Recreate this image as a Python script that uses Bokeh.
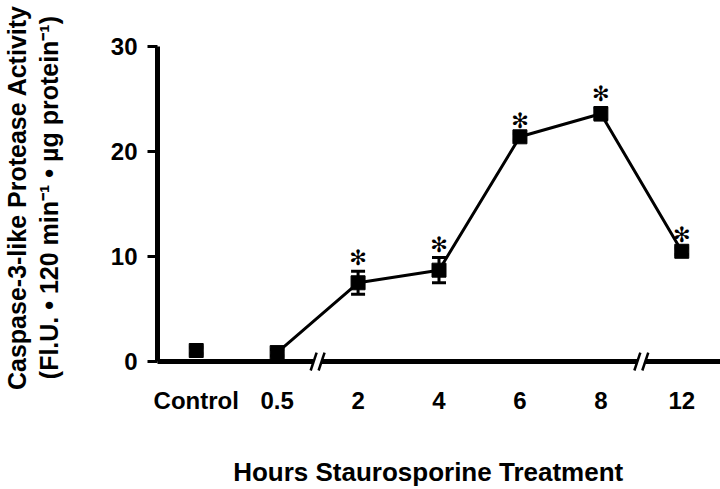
import numpy as np
from bokeh.plotting import figure
from bokeh.models import Range1d, FixedTicker, Whisker, ColumnDataSource, TeeHead
from bokeh.core.properties import value
from bokeh.embed import file_html
from bokeh.resources import INLINE

# ---- data ----
categories = ["Control", "0.5", "2", "4", "6", "8", "12"]
activity = [1.05, 0.85, 7.5, 8.7, 21.4, 23.6, 10.5]
sem = [0.3, 0.3, 1.1, 1.2, 0.3, 0.6, 0.3]
significant = [False, False, True, True, True, True, True]
y_ticks = [0, 10, 20, 30]
axis_breaks = [1.5, 5.5]          # axis broken between 0.5|2 and 8|12
x_title = "Hours Staurosporine Treatment"
y_title_1 = "Caspase-3-like Protease Activity"
y_title_2 = "(Fl.U. \u2022 120 min\u207b\u00b9 \u2022 \u00b5g protein\u207b\u00b9)"

FONT = "Liberation Sans"
NB = "\u00a0"
xi = list(range(len(categories)))

PX_X = 81.5     # pixels per category
PX_Y = 10.533   # pixels per y unit
x_range = Range1d(-39.0 / PX_X, 528.0 / PX_X)
y_range = Range1d(-11.0 / PX_Y, 30 + 3.0 / PX_Y)

p = figure(width=720, height=489, x_range=x_range, y_range=y_range,
           output_backend="svg", toolbar_location=None,
           min_border_left=153, min_border_right=0,
           min_border_top=43, min_border_bottom=116)
p.outline_line_color = None
p.xgrid.visible = False
p.ygrid.visible = False
p.background_fill_color = "white"
p.border_fill_color = "white"

# ---- broken x axis drawn at y = 0 ----
g = 4.0 / PX_X
seg_x0 = [x_range.start - 1] + [b + g for b in axis_breaks]
seg_x1 = [b - g for b in axis_breaks] + [x_range.end + 1]
p.segment(x0=seg_x0, y0=[0] * len(seg_x0), x1=seg_x1, y1=[0] * len(seg_x1),
          line_color="black", line_width=5, line_cap="butt")
sl_x0, sl_x1, sl_y0, sl_y1 = [], [], [], []
for b in axis_breaks:
    for c in (b - g, b + g):
        sl_x0.append(c - 3.0 / PX_X)
        sl_x1.append(c + 3.0 / PX_X)
        sl_y0.append(-9.0 / PX_Y)
        sl_y1.append(9.0 / PX_Y)
p.segment(x0=sl_x0, y0=sl_y0, x1=sl_x1, y1=sl_y1, line_color="black",
          line_width=2.5, line_cap="butt")

# ---- data line, error bars, markers ----
p.line(xi[1:], activity[1:], line_color="black", line_width=3)

src = ColumnDataSource(dict(
    x=xi, y=activity,
    upper=[a + e for a, e in zip(activity, sem)],
    lower=[a - e for a, e in zip(activity, sem)],
))
wh = Whisker(base="x", upper="upper", lower="lower", source=src,
             line_color="black", line_width=3,
             upper_head=TeeHead(size=14, line_width=3, line_color="black"),
             lower_head=TeeHead(size=14, line_width=3, line_color="black"))
p.add_layout(wh)
p.scatter("x", "y", source=src, marker="square", size=14,
          fill_color="black", line_color="black")

sig_x = [x for x, s in zip(xi, significant) if s]
sig_y = [a + e for a, e, s in zip(activity, sem, significant) if s]
p.text(x=sig_x, y=sig_y, text=["\u273b"] * len(sig_x), text_align="center",
       text_baseline="middle", y_offset=-13, text_color="black",
       text_font=value("DejaVu Sans"), text_font_size="21px")

# ---- axes ----
ya = p.yaxis[0]
ya.ticker = FixedTicker(ticks=y_ticks)
ya.bounds = (0, 30)
ya.axis_line_width = 5
ya.axis_line_color = "black"
ya.major_tick_line_width = 3
ya.major_tick_line_color = "black"
ya.major_tick_out = 10
ya.major_tick_in = 0
ya.minor_tick_line_color = None
ya.major_label_text_font = FONT
ya.major_label_text_font_style = "bold"
ya.major_label_text_font_size = "24px"
ya.major_label_text_color = "black"
ya.major_label_standoff = 10
ya.axis_label = NB * 3 + y_title_1 + "\n" + NB * 3 + y_title_2
ya.axis_label_text_font = FONT
ya.axis_label_text_font_style = "bold"
ya.axis_label_text_font_size = "25px"
ya.axis_label_text_color = "black"
ya.axis_label_text_line_height = 1.12
ya.axis_label_standoff = 45

xa = p.xaxis[0]
xa.ticker = FixedTicker(ticks=xi)
xa.major_label_overrides = {i: c for i, c in zip(xi, categories)}
xa.axis_line_color = None
xa.major_tick_line_color = None
xa.minor_tick_line_color = None
xa.major_label_text_font = FONT
xa.major_label_text_font_style = "bold"
xa.major_label_text_font_size = "24px"
xa.major_label_text_color = "black"
xa.major_label_standoff = 8
xa.axis_label = x_title + NB * 3
xa.axis_label_text_font = FONT
xa.axis_label_text_font_style = "bold"
xa.axis_label_text_font_size = "26px"
xa.axis_label_text_color = "black"
xa.axis_label_standoff = 40

open("out.html", "w").write(file_html(p, INLINE))
